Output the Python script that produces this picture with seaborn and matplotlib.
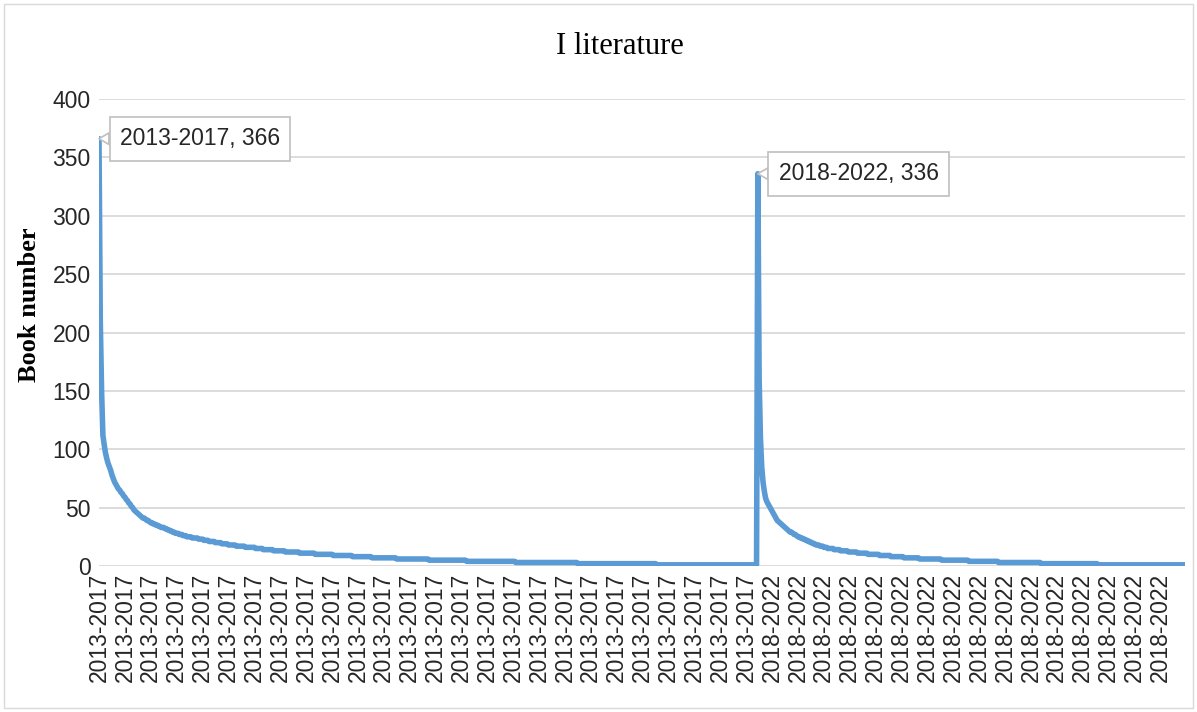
import numpy as np
import pandas as pd
import matplotlib
matplotlib.use("Agg")
import matplotlib.pyplot as plt
from matplotlib.patches import Rectangle
import seaborn as sns

# Book counts per title, ranked from most to least, for each period.
periods = ["2013-2017", "2018-2022"]

# 2013-2017: leading titles listed one by one, then run lengths of the small counts
head_2013 = [366, 210, 150, 112, 104, 97, 92, 88, 85, 82, 78, 75, 72, 70, 68,
             66, 65, 63, 62, 60, 59, 57, 56, 54, 53, 51, 50, 48, 47]
tail_levels_2013 = list(range(46, 0, -1))
tail_counts_2013 = [1, 1, 1, 1, 1, 2, 1, 2, 1, 2, 2, 2, 2, 3,
                    2, 2, 2, 2, 3, 3, 3, 4,
                    5,
                    4, 4, 5, 5, 5, 6, 7,
                    8, 6, 8, 9, 11, 12, 14, 15, 15, 19, 25, 29, 38, 48, 61, 78]

# 2018-2022
head_2018 = [336, 160, 110, 85, 72, 64, 58, 55, 53, 51, 49, 47, 45, 43, 41,
             39, 38, 37, 36, 35, 34, 33]
tail_levels_2018 = list(range(32, 0, -1))
tail_counts_2018 = [1, 1, 1, 2, 1, 2, 1, 2, 2, 2,
                    2, 2, 2, 2, 3, 3, 3,
                    5, 5, 6, 7, 8, 9, 9, 10, 12, 17, 21, 23, 33, 44, 68]

y_ticks = [0, 50, 100, 150, 200, 250, 300, 350, 400]
label_every = 20

books_2013 = head_2013 + list(np.repeat(tail_levels_2013, tail_counts_2013))
books_2018 = head_2018 + list(np.repeat(tail_levels_2018, tail_counts_2018))
books = books_2013 + books_2018
category = [periods[0]] * len(books_2013) + [periods[1]] * len(books_2018)
df = pd.DataFrame({"pos": np.arange(len(books)), "period": category, "books": books})

sns.set_theme(style="white")
plt.rcParams["font.family"] = ["Liberation Sans", "DejaVu Sans"]
serif = ["Liberation Serif", "DejaVu Serif"]
text_color = "#262626"
tick_size = 16.5

fig = plt.figure(figsize=(11.97, 7.12), dpi=100)
ax = fig.add_axes([99 / 1197, 1 - 566 / 712, 1086 / 1197, 467 / 712])

line_color = "#5b9bd5"
sns.lineplot(data=df, x="pos", y="books", color=line_color, linewidth=4.0,
             ax=ax, zorder=3)

ax.set_xlim(0, len(books) - 1)
ax.set_ylim(0, 400)
ax.set_yticks(y_ticks)
ax.set_yticklabels([str(v) for v in y_ticks], fontsize=tick_size, color=text_color)
tick_pos = list(range(0, len(books), label_every))
ax.set_xticks(tick_pos)
ax.set_xticklabels([category[i] for i in tick_pos], rotation=90,
                   fontsize=tick_size, color=text_color)
ax.tick_params(axis="y", length=0, pad=6)
ax.tick_params(axis="x", length=0, pad=5)
ax.grid(axis="y", color="#d9d9d9", linewidth=1.3, zorder=0)
ax.grid(axis="x", visible=False)
for s in ax.spines.values():
    s.set_visible(False)
ax.set_xlabel("")
ax.set_ylabel("Book number", fontsize=19, fontweight="bold",
              family=serif, color="black")
ax.yaxis.set_label_coords(-0.0535, 0.559)

# Callout labels on the first (largest) title of each period
starts = [0, len(books_2013)]
offsets = [(15, 0), (15, 0)]
for st, (dx, dy) in zip(starts, offsets):
    txt = f"{category[st]}, {books[st]}"
    ax.annotate(txt, xy=(st, books[st]), xycoords="data",
                xytext=(dx, dy), textcoords="offset points",
                ha="left", va="center", fontsize=tick_size, color=text_color,
                bbox=dict(boxstyle="square,pad=0.45", fc="white", ec="#bfbfbf", lw=1.2),
                arrowprops=dict(arrowstyle="wedge,tail_width=0.5,shrink_factor=0.5",
                                fc="white", ec="#bfbfbf", lw=1.2,
                                shrinkA=0, shrinkB=0),
                zorder=5)

fig.text(620 / 1197, 1 - 47 / 712, "I literature", ha="center", va="center",
         fontsize=22, family=serif, color="black")

fig.patches.append(Rectangle((4 / 1197, 4 / 712), 1189 / 1197, 704 / 712,
                             transform=fig.transFigure, fill=False,
                             ec="#d9d9d9", lw=1.0))

fig.savefig("out.png", dpi=100)
